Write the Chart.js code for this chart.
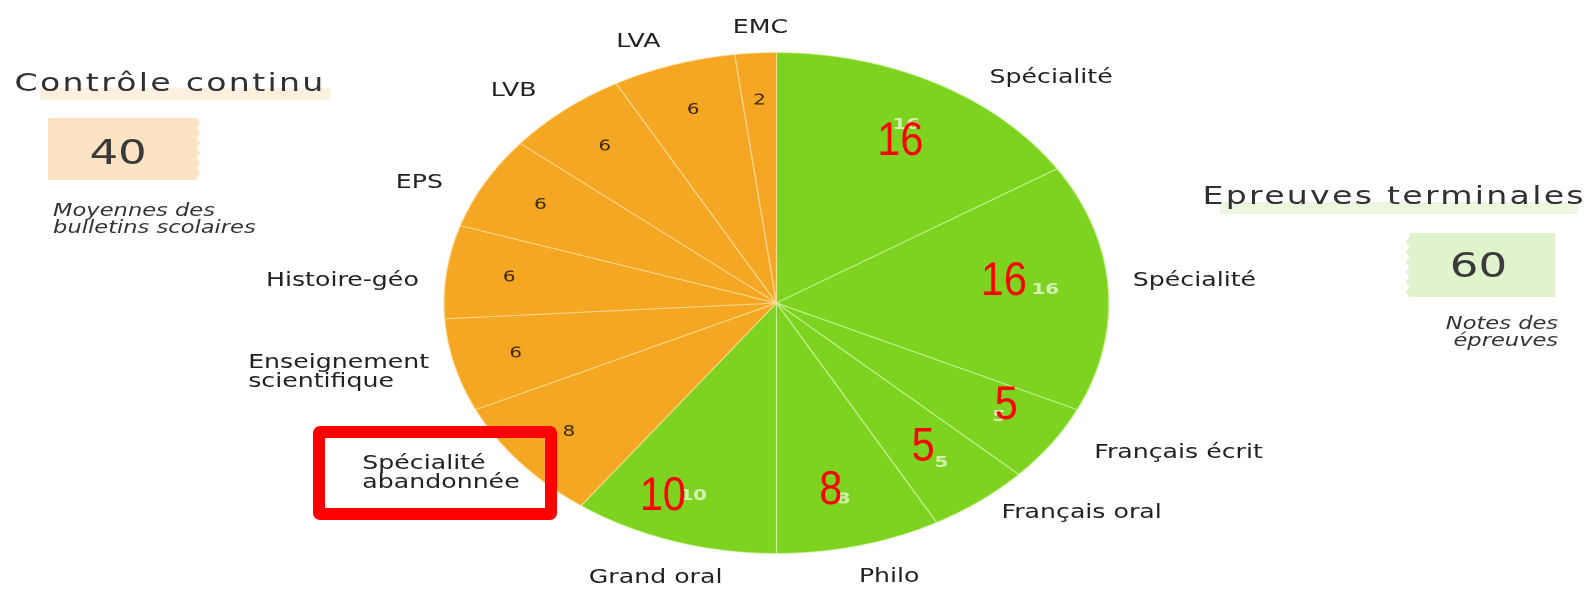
<!DOCTYPE html>
<html>
<head>
<meta charset="utf-8">
<script src="https://cdn.jsdelivr.net/npm/chart.js@4.4.1/dist/chart.umd.min.js"></script>
<style>
  html, body { margin: 0; padding: 0; background: #fff; }
  body { width: 1586px; height: 589px; position: relative; overflow: hidden; }
  /* the original picture is stretched sideways, so the whole chart is too */
  #stretch {
    position: absolute; left: 0; top: 0; width: 1195px; height: 589px;
    transform: scaleX(1.3272); transform-origin: 0 0;
    font-family: 'DejaVu Sans', sans-serif;
  }
  #chartBox { position: absolute; left: 0; top: 0; width: 1195px; height: 589px; }
  .lbl { position: absolute; font-size: 19px; line-height: 19px; color: #222; white-space: nowrap; transform: translate(-50%, -50%); }
  .lbl.left { transform: translate(0, -50%); text-align: left; }
  .title { position: absolute; font-size: 25px; line-height: 28px; letter-spacing: 1.7px; color: #303030; white-space: nowrap; }
  .band { position: absolute; height: 12px; }
  .tag { position: absolute; }
  .tagNum { position: absolute; font-size: 34px; line-height: 34px; color: #3a3a3a; transform: translate(-50%, -50%); }
  .note { position: absolute; font-size: 17px; line-height: 17px; font-style: italic; color: #333; white-space: nowrap; transform: translateY(-50%); }
  #redBox {
    position: absolute; left: 313px; top: 426px; width: 244px; height: 94px;
    box-sizing: border-box; border: 12px solid #ff0000; border-radius: 7px;
  }
</style>
</head>
<body>
<div id="stretch">
  <div id="chartBox"><canvas id="pie"></canvas></div>

  <div class="band" style="left:30px;top:88px;width:219px;background:#fdf0de;"></div>
  <div class="title" style="left:11px;top:69px;">Contrôle continu</div>
  <div class="tag" id="tag40" style="left:36px;top:118px;width:115px;height:62px;background:#fce4c3;"></div>
  <div class="tagNum" style="left:89px;top:152px;">40</div>
  <div class="note" style="left:40px;top:210px;">Moyennes des</div>
  <div class="note" style="left:40px;top:227px;">bulletins scolaires</div>

  <div class="band" style="left:919px;top:202px;width:270px;background:#ebf7df;"></div>
  <div class="title" style="left:906px;top:182px;">Epreuves terminales</div>
  <div class="tag" id="tag60" style="left:1059px;top:233px;width:113px;height:64px;background:#dff3cd;"></div>
  <div class="tagNum" style="left:1114px;top:265px;">60</div>
  <div class="note" style="left:1174px;top:323px;transform:translate(-100%,-50%);">Notes des</div>
  <div class="note" style="left:1174px;top:340px;transform:translate(-100%,-50%);">épreuves</div>

  <div class="lbl" style="left:792px;top:76px;">Spécialité</div>
  <div class="lbl" style="left:900px;top:279px;">Spécialité</div>
  <div class="lbl" style="left:888px;top:451px;">Français écrit</div>
  <div class="lbl" style="left:815px;top:511px;">Français oral</div>
  <div class="lbl" style="left:670px;top:575px;">Philo</div>
  <div class="lbl" style="left:494px;top:576px;">Grand oral</div>
  <div class="lbl left" style="left:273px;top:472px;">Spécialité<br>abandonnée</div>
  <div class="lbl left" style="left:187px;top:371px;">Enseignement<br>scientifique</div>
  <div class="lbl" style="left:258px;top:279px;">Histoire-géo</div>
  <div class="lbl" style="left:316px;top:181px;">EPS</div>
  <div class="lbl" style="left:387px;top:89px;">LVB</div>
  <div class="lbl" style="left:481px;top:40px;">LVA</div>
  <div class="lbl" style="left:573px;top:26px;">EMC</div>
</div>
<div id="redBox"></div>

<script>
// slices, clockwise from the top
const subjects = ['Spécialité', 'Spécialité', 'Français écrit', 'Français oral', 'Philo', 'Grand oral',
  'Spécialité abandonnée', 'Enseignement scientifique', 'Histoire-géo', 'EPS', 'LVB', 'LVA', 'EMC'];
const coefficients = [16, 16, 5, 5, 8, 10, 8, 6, 6, 6, 6, 6, 2];
const groups = ['final', 'final', 'final', 'final', 'final', 'final',
  'continu', 'continu', 'continu', 'continu', 'continu', 'continu', 'continu'];

// hand-written red numbers over the green slices: radius factor and angle nudge (deg)
const redRadius = [0.75, 0.69, 0.80, 0.72, 0.76, 0.84];
const redNudge = [1, -4, -4, 0, 2, 6];

const STRETCH = 1.3272;
const GREEN = '#7ed321';
const ORANGE = '#f5a623';

// torn-paper edge on the two score tags
function zigzag(el, side) {
  const w = el.offsetWidth, h = el.offsetHeight, depth = 3, step = 5;
  const pts = [];
  if (side === 'right') {
    pts.push('0px 0px', (w - depth) + 'px 0px');
    for (let y = 0, k = 0; y <= h; y += step, k++) pts.push((k % 2 ? w : w - depth) + 'px ' + y + 'px');
    pts.push((w - depth) + 'px ' + h + 'px', '0px ' + h + 'px');
  } else {
    pts.push(depth + 'px 0px', w + 'px 0px', w + 'px ' + h + 'px', depth + 'px ' + h + 'px');
    for (let y = h, k = 0; y >= 0; y -= step, k++) pts.push((k % 2 ? 0 : depth) + 'px ' + y + 'px');
  }
  el.style.clipPath = 'polygon(' + pts.join(',') + ')';
}
zigzag(document.getElementById('tag40'), 'right');
zigzag(document.getElementById('tag60'), 'left');

const sliceText = {
  id: 'sliceText',
  afterDatasetsDraw(chart) {
    const ctx = chart.ctx;
    const arcs = chart.getDatasetMeta(0).data;
    ctx.save();
    ctx.textAlign = 'center';
    ctx.textBaseline = 'middle';
    arcs.forEach((arc, i) => {
      const p = arc.getProps(['x', 'y', 'startAngle', 'endAngle', 'outerRadius'], true);
      const mid = (p.startAngle + p.endAngle) / 2;
      const r = p.outerRadius * 0.81;
      if (groups[i] === 'final') {
        ctx.font = 'bold 15px "DejaVu Sans"';
        ctx.fillStyle = 'rgba(235,250,215,0.8)';
      } else {
        ctx.font = '15px "DejaVu Sans"';
        ctx.fillStyle = '#3b2a0e';
      }
      ctx.fillText(String(coefficients[i]), p.x + Math.cos(mid) * r, p.y + Math.sin(mid) * r);
    });
    // red overlay numbers are not stretched
    arcs.forEach((arc, i) => {
      if (i >= redRadius.length) return;
      const p = arc.getProps(['x', 'y', 'startAngle', 'endAngle', 'outerRadius'], true);
      const a = (p.startAngle + p.endAngle) / 2 + redNudge[i] * Math.PI / 180;
      const r = p.outerRadius * redRadius[i];
      ctx.save();
      ctx.translate(p.x + Math.cos(a) * r, p.y + Math.sin(a) * r);
      ctx.scale(0.88 / STRETCH, 1);
      ctx.font = '47px "Liberation Sans", sans-serif';
      ctx.fillStyle = '#ff0000';
      ctx.fillText(String(coefficients[i]), 0, 2);
      ctx.restore();
    });
    ctx.restore();
  }
};

new Chart(document.getElementById('pie'), {
  type: 'pie',
  data: {
    labels: subjects,
    datasets: [{
      data: coefficients,
      backgroundColor: groups.map(g => g === 'final' ? GREEN : ORANGE),
      borderColor: groups.map(g => g === 'final' ? 'rgba(215,250,170,0.7)' : 'rgba(255,225,160,0.75)'),
      borderWidth: 1,
      borderDash: subjects.map(s => s === 'EMC' ? [4, 3] : []),
    }],
  },
  options: {
    responsive: true,
    maintainAspectRatio: false,
    devicePixelRatio: 2,
    animation: false,
    layout: { padding: { top: 52, bottom: 35, left: 334, right: 359 } },
    plugins: { legend: { display: false }, tooltip: { enabled: false } },
  },
  plugins: [sliceText],
});
</script>
</body>
</html>
